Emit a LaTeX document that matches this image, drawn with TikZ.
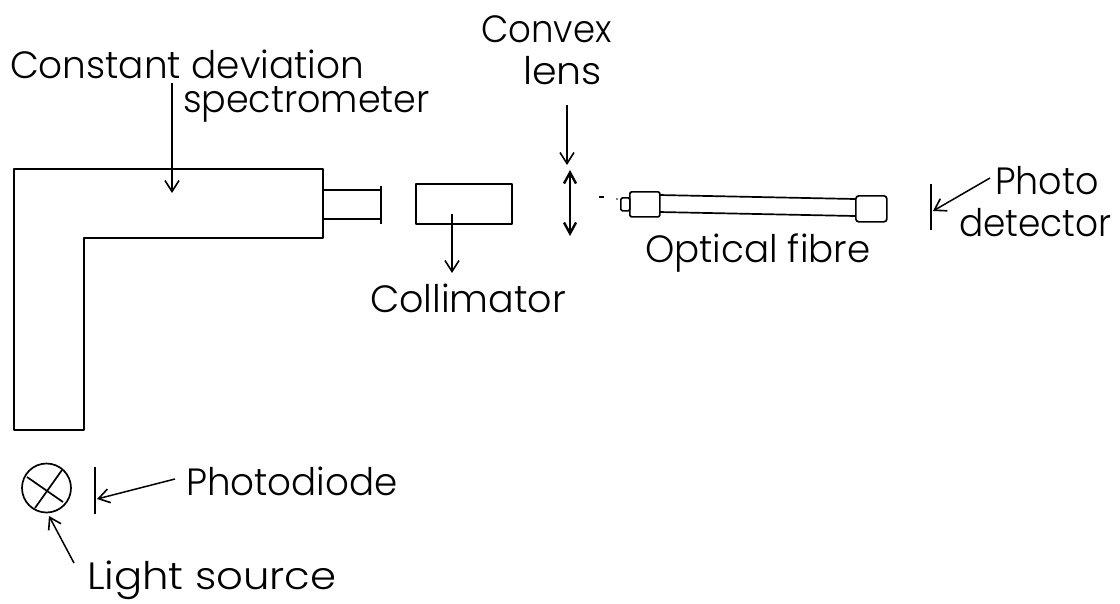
\documentclass[tikz,border=0pt]{standalone}
\usepackage{fontspec}
\setmainfont{Poppins}[UprightFont=* Light]
\usetikzlibrary{arrows.meta}
\tikzset{
  ink/.style={draw=black,line width=1.7pt,line join=round},
  lead/.style={draw=black,line width=1.5pt,-{Straight Barb[length=11pt,width=14pt,line width=1.6pt]}},
  lbl/.style={anchor=base west,inner sep=0pt,outer sep=0pt,font=\fontsize{38}{38}\selectfont,text=black},
}
\begin{document}
\begin{tikzpicture}[x=1pt,y=-1pt]
\useasboundingbox (0,0) rectangle (1120,603);
\fill[white] (0,0) rectangle (1120,603);
% labels
\node[lbl] (tconst) at (10,78) {\scalebox{.985}[1]{Constant deviation}};
\node[lbl] (tspec) at (183,112) {\scalebox{.96}[1]{spectrometer}};
\node[lbl] (tconv) at (481,42) {\scalebox{.935}[1]{Convex}};
\node[lbl] (tlens) at (523,84) {\scalebox{1.04}[1]{lens}};
\node[lbl] (tcoll) at (370,312) {Collimator};
\node[lbl] (tfibre) at (645,262) {\scalebox{.98}[1]{Optical fibre}};
\node[lbl] (tphoto) at (995,194) {\scalebox{.96}[1]{Photo}};
\node[lbl] (tdet) at (959,236) {\scalebox{.945}[1]{detector}};
\node[lbl] (tdiode) at (186,495) {\scalebox{.98}[1]{Photodiode}};
\node[lbl] (tlight) at (87,589) {\scalebox{1.10}[1]{Light source}};
% spectrometer body
\draw[ink] (14,169) -- (323,169) -- (323,238) -- (84,238) -- (84,430) -- (14,430) -- cycle;
\node[ink,minimum width=58pt,minimum height=29pt,inner sep=0pt,outer sep=0pt,anchor=north west] (tube) at (323,190) {};
\draw[ink] (tube.east) ++(0,-19) -- ++(0,38);
\node[ink,minimum width=96pt,minimum height=40pt,inner sep=0pt,anchor=north west] (coll) at (415,183) {};
% lens
\coordinate (lenst) at (570,170);
\coordinate (lensb) at (570,236);
\draw[draw=black,line width=2pt,{Straight Barb[length=11pt,width=12pt,line width=2.4pt]}-{Straight Barb[length=11pt,width=12pt,line width=2.4pt]}] (lenst) -- (lensb);
% fibre
\draw[line width=1.2pt] (599,197) -- (604,197);
\fill (617,199) circle (0.8pt);
\node[ink,rounded corners=1.5pt,minimum width=9pt,minimum height=13pt,inner sep=0pt,anchor=north west] (tip) at (620,197) {};
\node[ink,rounded corners=2pt,minimum width=30pt,minimum height=25pt,inner sep=0pt,anchor=north west] (conn) at (629,191) {};
\node[ink,rounded corners=3pt,minimum width=31pt,minimum height=26pt,inner sep=0pt,anchor=north west] (endb) at (855,195) {};
\coordinate (f1) at (659,195);
\coordinate (f2) at (855,199);
\coordinate (f3) at (659,212);
\coordinate (f4) at (855,216);
\draw[ink] (f1) -- (f2);
\draw[ink] (f3) -- (f4);
% detectors
\coordinate (d1) at (931,184);
\coordinate (d2) at (931,230);
\draw[ink] (d1) -- (d2);
\coordinate (pd1) at (95,467);
\coordinate (pd2) at (95,514);
\draw[ink] (pd1) -- (pd2);
% light source
\node[ink,circle,minimum size=49pt,inner sep=0pt] (lamp) at (46.5,488) {};
\draw[ink] (27,477) -- (63,502);
\draw[ink] (62,470) -- (35,508);
% leaders
\coordinate (a1) at (172,83); \coordinate (a2) at (172,193);
\draw[lead] (a1) -- (a2);
\coordinate (b1) at (567,105); \coordinate (b2) at (567,165);
\draw[lead] (b1) -- (b2);
\coordinate (c1) at (452,214); \coordinate (c2) at (452,273);
\draw[lead] (c1) -- (c2);
\coordinate (e1) at (990,178); \coordinate (e2) at (933,211);
\draw[lead] (e1) -- (e2);
\coordinate (g1) at (175,479); \coordinate (g2) at (97,499);
\draw[lead] (g1) -- (g2);
\coordinate (h1) at (74,563); \coordinate (h2) at (49,516);
\draw[lead] (h1) -- (h2);
\end{tikzpicture}
\end{document}
